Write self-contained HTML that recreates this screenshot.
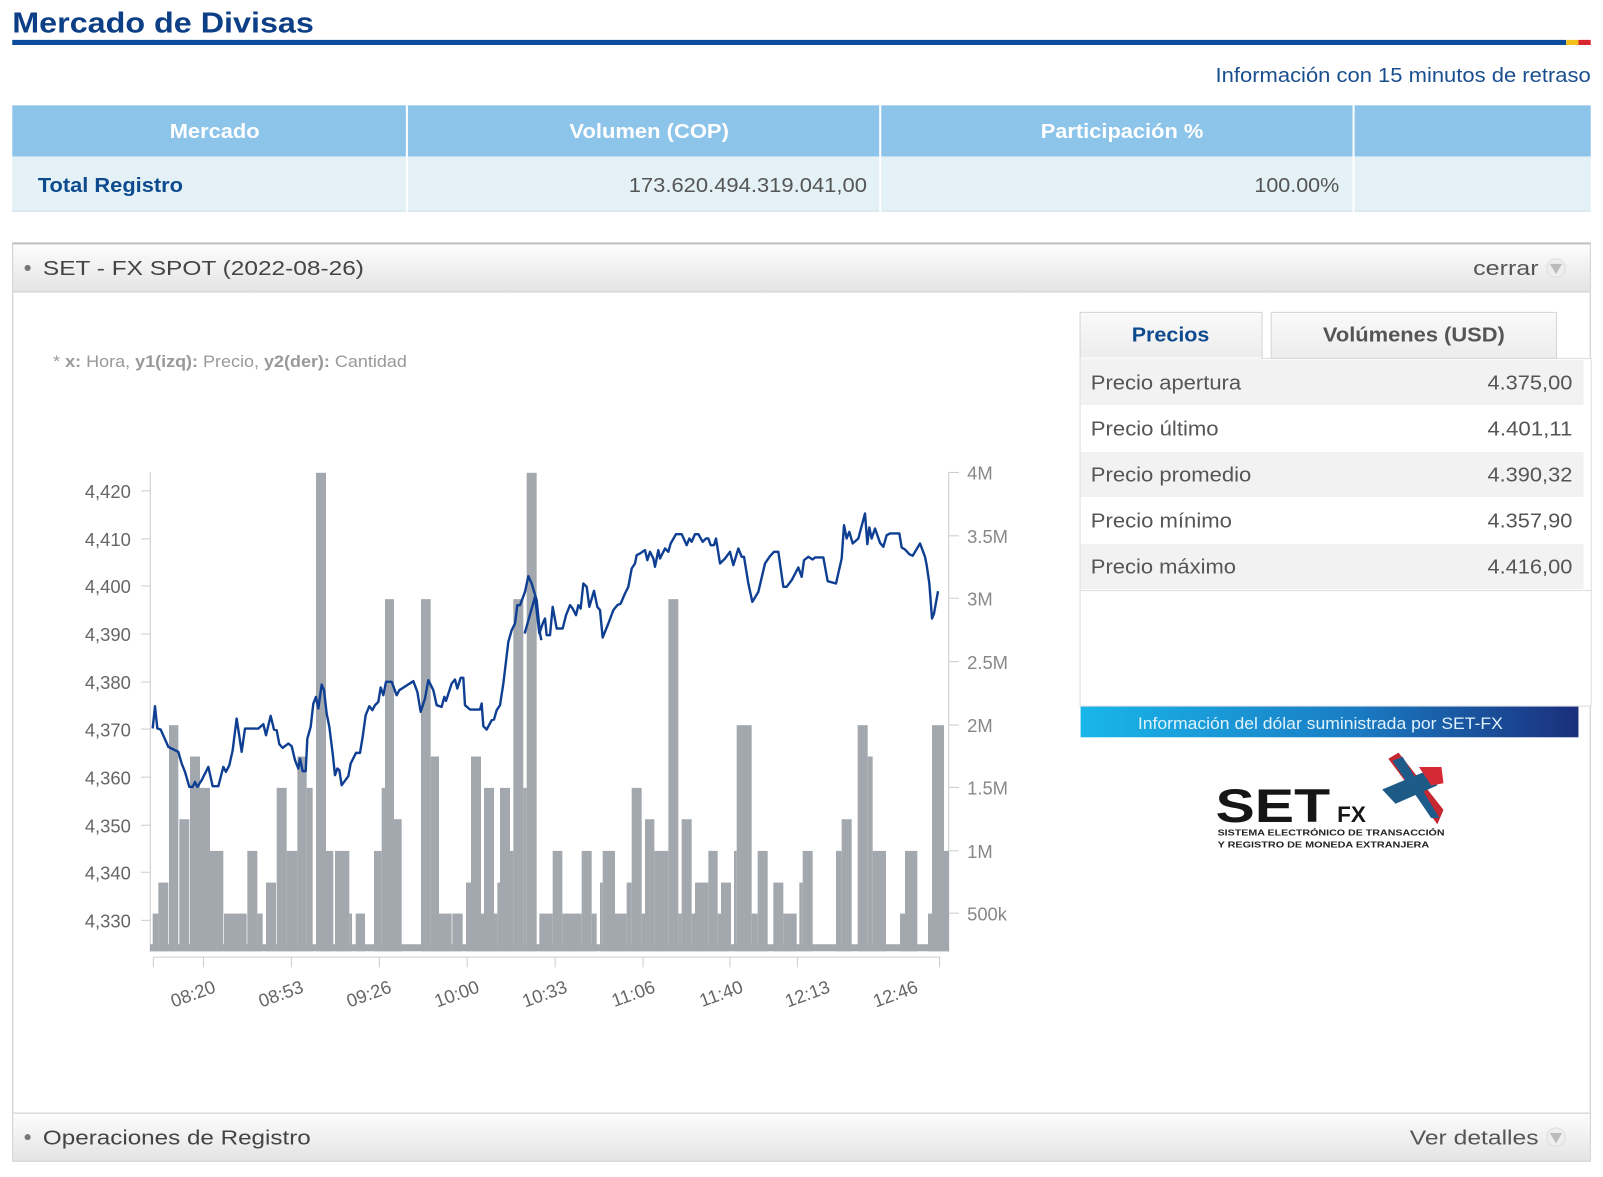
<!DOCTYPE html>
<html><head><meta charset="utf-8"><style>
html,body{margin:0;padding:0;background:#fff;width:1603px;height:1177px;overflow:hidden}
svg{display:block;font-family:"Liberation Sans",Arial,sans-serif}
</style></head><body>
<svg width="1603" height="1177" viewBox="0 0 1568 1151" preserveAspectRatio="none" xmlns="http://www.w3.org/2000/svg">
<defs>
<linearGradient id="hdr" x1="0" y1="0" x2="0" y2="1"><stop offset="0" stop-color="#fdfdfd"/><stop offset="1" stop-color="#e4e4e4"/></linearGradient>
<linearGradient id="ban" x1="0" y1="0" x2="1" y2="0"><stop offset="0" stop-color="#19b6ea"/><stop offset="0.55" stop-color="#1a7cc4"/><stop offset="1" stop-color="#1a2f7c"/></linearGradient>
<linearGradient id="tab" x1="0" y1="0" x2="0" y2="1"><stop offset="0" stop-color="#fafafa"/><stop offset="1" stop-color="#ececec"/></linearGradient>
</defs>
<!-- title -->
<text x="12" y="32" font-size="28" font-weight="bold" fill="#0d3f86" textLength="295" lengthAdjust="spacingAndGlyphs">Mercado de Divisas</text>
<rect x="12" y="39" width="1520" height="5" fill="#0a4c9c"/>
<rect x="1532" y="39" width="12" height="5" fill="#f2c21b"/>
<rect x="1544" y="39" width="12" height="5" fill="#d8262e"/>
<text x="1189" y="80" font-size="20" fill="#1a4f8f" textLength="367" lengthAdjust="spacingAndGlyphs">Información con 15 minutos de retraso</text>
<!-- table -->
<rect x="12" y="103" width="1544" height="50" fill="#8dc4ea"/>
<rect x="12" y="153" width="1544" height="54" fill="#e4f1f6"/>
<rect x="12" y="206" width="1544" height="1" fill="#cfdfe6"/>
<g fill="#fff"><rect x="397" y="103" width="2" height="104"/><rect x="860" y="103" width="2" height="104"/><rect x="1323" y="103" width="2" height="104"/></g>
<g font-size="20" font-weight="bold" fill="#fff">
<text x="166" y="135" textLength="88" lengthAdjust="spacingAndGlyphs">Mercado</text><text x="557" y="135" textLength="156" lengthAdjust="spacingAndGlyphs">Volumen (COP)</text><text x="1018" y="135" textLength="159" lengthAdjust="spacingAndGlyphs">Participación %</text></g>
<text x="37" y="188" font-size="20" font-weight="bold" fill="#0d4a8e" textLength="142" lengthAdjust="spacingAndGlyphs">Total Registro</text>
<text x="615" y="188" font-size="20" fill="#555" textLength="233" lengthAdjust="spacingAndGlyphs">173.620.494.319.041,00</text>
<text x="1227" y="188" font-size="20" fill="#555" textLength="83" lengthAdjust="spacingAndGlyphs">100.00%</text>
<!-- panel -->
<rect x="12.5" y="238.5" width="1543" height="897" fill="none" stroke="#c8c8c8"/>
<rect x="13" y="239" width="1542" height="46" fill="url(#hdr)"/>
<rect x="12" y="237" width="1544" height="2" fill="#c0c0c0"/>
<rect x="13" y="285" width="1542" height="1" fill="#cfcfcf"/>
<circle cx="27" cy="262" r="3" fill="#777"/>
<text x="42" y="269" font-size="20" fill="#444" textLength="314" lengthAdjust="spacingAndGlyphs">SET - FX SPOT (2022-08-26)</text>
<text x="1441" y="269" font-size="20" fill="#555" textLength="64" lengthAdjust="spacingAndGlyphs">cerrar</text>
<circle cx="1522" cy="262" r="9" fill="#eee" stroke="#ddd"/><path d="M1516 258 L1528 258 L1522 268 Z" fill="#bbb"/>
<rect x="13" y="1088" width="1542" height="47" fill="url(#hdr)"/>
<rect x="13" y="1088" width="1542" height="1" fill="#c8c8c8"/>
<circle cx="27" cy="1112" r="3" fill="#777"/>
<text x="42" y="1119" font-size="20" fill="#444" textLength="262" lengthAdjust="spacingAndGlyphs">Operaciones de Registro</text>
<text x="1379" y="1119" font-size="20" fill="#555" textLength="126" lengthAdjust="spacingAndGlyphs">Ver detalles</text>
<circle cx="1522" cy="1112" r="9" fill="#eee" stroke="#ddd"/><path d="M1516 1108 L1528 1108 L1522 1118 Z" fill="#bbb"/>
<!-- note -->
<text x="52" y="359" font-size="16" fill="#999" textLength="346" lengthAdjust="spacingAndGlyphs">* <tspan font-weight="bold">x:</tspan> Hora, <tspan font-weight="bold">y1(izq):</tspan> Precio, <tspan font-weight="bold">y2(der):</tspan> Cantidad</text>
<!-- price box -->
<rect x="1056.5" y="350.5" width="500" height="340" fill="#fff" stroke="#ddd"/>
<rect x="1056.5" y="305.5" width="178" height="45" fill="url(#tab)" stroke="#d5d5d5"/>
<rect x="1243.5" y="305.5" width="279" height="45" fill="url(#tab)" stroke="#d5d5d5"/>
<rect x="1057" y="349" width="177" height="3" fill="#f6f6f6"/>
<text x="1107" y="334" font-size="20" font-weight="bold" fill="#0d4a8e" textLength="76" lengthAdjust="spacingAndGlyphs">Precios</text>
<text x="1294" y="334" font-size="20" font-weight="bold" fill="#555" textLength="178" lengthAdjust="spacingAndGlyphs">Volúmenes (USD)</text>
<rect x="1057" y="352" width="492" height="44" fill="#f2f2f2"/>
<rect x="1057" y="442" width="492" height="44" fill="#f2f2f2"/>
<rect x="1057" y="532" width="492" height="44" fill="#f2f2f2"/>
<rect x="1057" y="577" width="499" height="1" fill="#ddd"/>
<g font-size="20" fill="#555">
<text x="1067" y="381" textLength="147" lengthAdjust="spacingAndGlyphs">Precio apertura</text><text x="1455" y="381" textLength="83" lengthAdjust="spacingAndGlyphs">4.375,00</text>
<text x="1067" y="426" textLength="125" lengthAdjust="spacingAndGlyphs">Precio último</text><text x="1455" y="426" textLength="83" lengthAdjust="spacingAndGlyphs">4.401,11</text>
<text x="1067" y="471" textLength="157" lengthAdjust="spacingAndGlyphs">Precio promedio</text><text x="1455" y="471" textLength="83" lengthAdjust="spacingAndGlyphs">4.390,32</text>
<text x="1067" y="516" textLength="138" lengthAdjust="spacingAndGlyphs">Precio mínimo</text><text x="1455" y="516" textLength="83" lengthAdjust="spacingAndGlyphs">4.357,90</text>
<text x="1067" y="561" textLength="142" lengthAdjust="spacingAndGlyphs">Precio máximo</text><text x="1455" y="561" textLength="83" lengthAdjust="spacingAndGlyphs">4.416,00</text></g>
<rect x="1057" y="691" width="487" height="30" fill="url(#ban)"/>
<text x="1113" y="713" font-size="16" fill="#dff3fb" textLength="357" lengthAdjust="spacingAndGlyphs">Información del dólar suministrada por SET-FX</text>
<!-- logo -->
<text x="1189" y="804" font-size="46" font-weight="bold" fill="#161616" textLength="112" lengthAdjust="spacingAndGlyphs">SET</text>
<text x="1308" y="804" font-size="22" font-weight="bold" fill="#161616">FX</text>
<path d="M1358 742 L1368 736 L1412 792 L1406 806 Z" fill="#c62832"/>
<path d="M1352 772 L1400 752 L1406 768 L1365 786 Z" fill="#1e5a86"/>
<path d="M1362 744 L1400 800 L1408 800 L1372 740 Z" fill="#1d5c8a"/>
<path d="M1388 750 L1410 750 L1412 766 L1400 768 Z" fill="#d52a35"/>
<text x="1191" y="817" font-size="8" font-weight="bold" fill="#222" textLength="222" lengthAdjust="spacingAndGlyphs">SISTEMA ELECTRÓNICO DE TRANSACCIÓN</text>
<text x="1191" y="829" font-size="8" font-weight="bold" fill="#222" textLength="207" lengthAdjust="spacingAndGlyphs">Y REGISTRO DE MONEDA EXTRANJERA</text>
<!-- axes labels -->
<g font-size="18" fill="#666" text-anchor="end">
<text x="128" y="487">4,420</text><text x="128" y="534">4,410</text><text x="128" y="580">4,400</text><text x="128" y="627">4,390</text><text x="128" y="674">4,380</text><text x="128" y="720">4,370</text><text x="128" y="767">4,360</text><text x="128" y="814">4,350</text><text x="128" y="860">4,340</text><text x="128" y="907">4,330</text></g>
<g font-size="18" fill="#888">
<text x="946" y="469">4M</text><text x="946" y="531">3.5M</text><text x="946" y="592">3M</text><text x="946" y="654">2.5M</text><text x="946" y="716">2M</text><text x="946" y="777">1.5M</text><text x="946" y="839">1M</text><text x="946" y="900">500k</text></g>
<g stroke="#ccc" stroke-width="1">
<line x1="147" y1="462" x2="147" y2="931"/>
<line x1="138" y1="480" x2="147" y2="480"/><line x1="138" y1="527" x2="147" y2="527"/><line x1="138" y1="573" x2="147" y2="573"/><line x1="138" y1="620" x2="147" y2="620"/><line x1="138" y1="667" x2="147" y2="667"/><line x1="138" y1="713" x2="147" y2="713"/><line x1="138" y1="760" x2="147" y2="760"/><line x1="138" y1="807" x2="147" y2="807"/><line x1="138" y1="853" x2="147" y2="853"/><line x1="138" y1="900" x2="147" y2="900"/>
<line x1="928" y1="462" x2="928" y2="931"/>
<line x1="928" y1="462" x2="938" y2="462"/><line x1="928" y1="524" x2="938" y2="524"/><line x1="928" y1="585" x2="938" y2="585"/><line x1="928" y1="647" x2="938" y2="647"/><line x1="928" y1="709" x2="938" y2="709"/><line x1="928" y1="770" x2="938" y2="770"/><line x1="928" y1="832" x2="938" y2="832"/><line x1="928" y1="893" x2="938" y2="893"/>
<line x1="150" y1="936" x2="920" y2="936"/>
<line x1="150" y1="936" x2="150" y2="946"/><line x1="199" y1="936" x2="199" y2="946"/><line x1="285" y1="936" x2="285" y2="946"/><line x1="371" y1="936" x2="371" y2="946"/><line x1="457" y1="936" x2="457" y2="946"/><line x1="543" y1="936" x2="543" y2="946"/><line x1="629" y1="936" x2="629" y2="946"/><line x1="714" y1="936" x2="714" y2="946"/><line x1="780" y1="936" x2="780" y2="946"/><line x1="919" y1="936" x2="919" y2="946"/>
</g>
<g font-size="18" fill="#666" text-anchor="end">
<text transform="translate(212,970) rotate(-20)">08:20</text>
<text transform="translate(298,970) rotate(-20)">08:53</text>
<text transform="translate(384,970) rotate(-20)">09:26</text>
<text transform="translate(470,970) rotate(-20)">10:00</text>
<text transform="translate(556,970) rotate(-20)">10:33</text>
<text transform="translate(642,970) rotate(-20)">11:06</text>
<text transform="translate(728,970) rotate(-20)">11:40</text>
<text transform="translate(813,970) rotate(-20)">12:13</text>
<text transform="translate(899,970) rotate(-20)">12:46</text></g>
<!-- chart data in actual coords -->
<g transform="scale(0.97818)">
<rect x="150" y="944" width="799" height="7" fill="#a2a8ad"/>
<g transform="translate(140,450) scale(0.33333)" fill="#a2a8ad">
<rect x="38" y="1390" width="17" height="113"/><rect x="55" y="1297" width="30" height="206"/><rect x="87" y="825" width="28" height="678"/><rect x="118" y="1107" width="30" height="396"/><rect x="150" y="919" width="30" height="584"/><rect x="180" y="1013" width="30" height="490"/><rect x="210" y="1202" width="40" height="301"/><rect x="252" y="1390" width="68" height="113"/><rect x="322" y="1202" width="30" height="301"/><rect x="352" y="1390" width="16" height="113"/><rect x="378" y="1297" width="30" height="206"/><rect x="410" y="1013" width="30" height="490"/><rect x="440" y="1202" width="32" height="301"/><rect x="472" y="919" width="28" height="584"/><rect x="500" y="1013" width="18" height="490"/><rect x="528" y="68" width="30" height="1435"/><rect x="558" y="1202" width="22" height="301"/><rect x="585" y="1202" width="43" height="301"/><rect x="628" y="1390" width="8" height="113"/><rect x="647" y="1390" width="28" height="113"/><rect x="702" y="1202" width="23" height="301"/><rect x="725" y="1013" width="10" height="490"/><rect x="735" y="447" width="27" height="1056"/><rect x="762" y="1107" width="23" height="396"/><rect x="843" y="447" width="29" height="1056"/><rect x="872" y="919" width="25" height="584"/><rect x="897" y="1390" width="38" height="113"/><rect x="937" y="1390" width="31" height="113"/><rect x="978" y="1297" width="15" height="206"/><rect x="993" y="919" width="30" height="584"/><rect x="1023" y="1390" width="9" height="113"/><rect x="1032" y="1013" width="30" height="490"/><rect x="1062" y="1390" width="10" height="113"/><rect x="1072" y="1297" width="8" height="206"/><rect x="1080" y="1013" width="30" height="490"/><rect x="1110" y="1202" width="10" height="301"/><rect x="1120" y="447" width="30" height="1056"/><rect x="1150" y="1013" width="10" height="490"/><rect x="1160" y="68" width="30" height="1435"/>
</g>
<g transform="translate(530,450) scale(0.33333)" fill="#a2a8ad">
<rect x="28" y="1390" width="40" height="113"/><rect x="68" y="1202" width="29" height="301"/><rect x="97" y="1390" width="58" height="113"/><rect x="155" y="1202" width="30" height="301"/><rect x="185" y="1390" width="15" height="113"/><rect x="210" y="1297" width="8" height="206"/><rect x="218" y="1202" width="37" height="301"/><rect x="255" y="1390" width="35" height="113"/><rect x="290" y="1297" width="15" height="206"/><rect x="305" y="1013" width="30" height="490"/><rect x="335" y="1390" width="10" height="113"/><rect x="345" y="1107" width="28" height="396"/><rect x="373" y="1202" width="42" height="301"/><rect x="415" y="447" width="30" height="1056"/><rect x="445" y="1390" width="10" height="113"/><rect x="455" y="1107" width="30" height="396"/><rect x="485" y="1390" width="10" height="113"/><rect x="495" y="1297" width="40" height="206"/><rect x="535" y="1202" width="28" height="301"/><rect x="563" y="1390" width="10" height="113"/><rect x="573" y="1297" width="30" height="206"/><rect x="612" y="1202" width="8" height="301"/><rect x="620" y="825" width="45" height="678"/><rect x="665" y="1390" width="18" height="113"/><rect x="683" y="1202" width="30" height="301"/><rect x="730" y="1297" width="30" height="206"/><rect x="760" y="1390" width="40" height="113"/><rect x="808" y="1297" width="10" height="206"/><rect x="818" y="1202" width="30" height="301"/><rect x="918" y="1202" width="17" height="301"/><rect x="935" y="1107" width="30" height="396"/><rect x="983" y="825" width="30" height="678"/><rect x="1013" y="919" width="15" height="584"/><rect x="1028" y="1202" width="40" height="301"/><rect x="1110" y="1390" width="15" height="113"/><rect x="1125" y="1202" width="37" height="301"/><rect x="1194" y="1390" width="12" height="113"/><rect x="1206" y="825" width="36" height="678"/><rect x="1242" y="1202" width="15" height="301"/>
</g>
<g fill="none" stroke="#0f3f92" stroke-width="2.4" stroke-linejoin="round">
<polyline transform="translate(140,450) scale(0.33333)" stroke-width="7.2" points="38,835 45,768 52,835 62,838 85,890 115,905 125,940 135,965 148,1010 158,1010 165,995 172,1010 185,990 205,950 218,1008 235,1008 250,950 258,965 268,945 278,900 290,805 305,905 315,835 355,835 370,822 378,855 392,797 402,838 410,840 418,882 428,893 445,880 455,888 465,930 475,955 480,925 488,963 497,963 502,865 512,830 520,760 528,740 535,775 545,703 552,720 560,790 568,830 578,910 585,975 592,955 598,960 605,1005 625,978 632,940 648,908 660,908 668,860 677,795 688,768 697,780 705,765 715,755 722,712 730,735 738,695 755,695 770,735 778,720 820,693 832,725 842,785 855,745 865,690 880,720 890,765 905,770 913,740 918,752 935,700 945,688 952,715 962,683 970,683 975,765 990,778 1020,778 1025,760 1030,828 1040,838 1055,810 1062,808 1070,780 1080,765 1090,700 1105,575 1115,540 1125,520 1132,465 1140,465 1155,425 1165,378 1175,400 1190,450 1200,550 1204,570"/>
<polyline transform="translate(530,450) scale(0.33333)" stroke-width="7.2" points="-16,550 15,440 28,550 40,515 45,505 50,555 60,555 68,470 80,535 98,535 108,495 120,465 128,475 138,495 145,465 152,475 160,400 170,410 178,470 192,422 202,470 210,480 218,562 235,520 250,480 262,465 272,460 285,430 295,410 305,355 315,340 320,315 330,310 345,300 352,330 360,305 370,325 375,350 385,300 390,325 405,295 415,305 422,280 438,252 455,252 470,285 478,265 485,275 495,252 505,252 518,275 528,265 535,265 542,285 552,285 558,265 570,340 585,325 600,305 610,345 625,295 635,320 642,320 655,400 667,455 685,425 705,340 720,318 732,305 745,305 760,410 770,410 785,390 805,352 815,380 822,330 835,320 848,328 855,322 880,322 893,393 918,400 935,325 942,225 950,265 958,245 968,280 985,265 1005,190 1012,282 1018,232 1025,265 1035,235 1050,278 1060,290 1070,255 1080,250 1108,250 1115,292 1125,298 1138,312 1148,317 1170,280 1185,320 1190,345 1198,400 1206,505 1212,490 1224,423"/>
</g>
</g>
</svg>
</body></html>
